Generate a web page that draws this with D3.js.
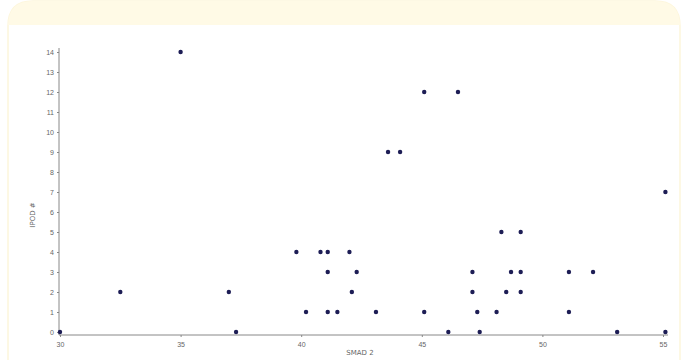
<!DOCTYPE html>
<html>
<head>
<meta charset="utf-8">
<script src="https://cdn.jsdelivr.net/npm/d3@7"></script>
<style>
  body { margin: 0; background: #fff; font-family: "DejaVu Sans", sans-serif; }
  .axis text { fill: #666; font-size: 7px; }
  .axis path, .axis line { stroke: #888; }
</style>
</head>
<body>
<script>
// data
var xVals = [30, 37.3, 46.1, 47.4, 53.1, 55.1,
             40.2, 41.1, 41.5, 43.1, 45.1, 47.3, 48.1, 51.1,
             32.5, 37.0, 42.1, 47.1, 48.5, 49.1,
             41.1, 42.3, 47.1, 48.7, 49.1, 51.1, 52.1,
             39.8, 40.8, 41.1, 42.0,
             48.3, 49.1,
             55.1,
             43.6, 44.1,
             45.1, 46.5,
             35.0];
var yVals = [0, 0, 0, 0, 0, 0,
             1, 1, 1, 1, 1, 1, 1, 1,
             2, 2, 2, 2, 2, 2,
             3, 3, 3, 3, 3, 3, 3,
             4, 4, 4, 4,
             5, 5,
             7,
             9, 9,
             12, 12,
             14];
var xTicks = [30, 35, 40, 45, 50, 55];
var yTicks = d3.range(0, 15);
var xTitle = "SMAD 2";
var yTitle = "IPOD #";

var W = 688, H = 360;
var svg = d3.select("body").append("svg")
  .attr("width", W)
  .attr("height", H);

// card
svg.append("path")
  .attr("d", "M8,380 L8,26 Q8,1 33,1 L655,1 Q680,1 680,26 L680,380")
  .attr("fill", "#fffdf8")
  .attr("stroke", "#fdf6dc")
  .attr("stroke-width", 1.5);
svg.append("path")
  .attr("d", "M8,25 L8,26 Q8,1 33,1 L655,1 Q680,1 680,26 L680,25 Z")
  .attr("fill", "#fffae6");
svg.append("rect")
  .attr("x", 9).attr("y", 25).attr("width", 670).attr("height", 340)
  .attr("fill", "#fff");

var x = d3.scaleLinear().domain([30, 55]).range([60, 663]);
var y = d3.scaleLinear().domain([0, 14]).range([332, 52]);

var xAxis = d3.axisBottom(x).tickValues(xTicks).tickSize(2).tickPadding(5).tickFormat(d3.format("d"));
var yAxis = d3.axisLeft(y).tickValues(yTicks).tickSize(2).tickPadding(3).tickFormat(d3.format("d"));

svg.append("g")
  .attr("class", "axis")
  .attr("transform", "translate(0,335)")
  .call(xAxis)
  .call(function(g) { g.select(".domain").attr("d", "M59,0H668"); });

svg.append("g")
  .attr("class", "axis")
  .attr("transform", "translate(59,0)")
  .call(yAxis)
  .call(function(g) { g.select(".domain").attr("d", "M0,48V335"); });

svg.append("text")
  .attr("x", 360).attr("y", 355)
  .attr("text-anchor", "middle")
  .attr("fill", "#666")
  .style("font-size", "7px")
  .text(xTitle);

svg.append("text")
  .attr("transform", "translate(35,215) rotate(-90)")
  .attr("text-anchor", "middle")
  .attr("fill", "#666")
  .style("font-size", "7px")
  .text(yTitle);

// points
svg.selectAll(".pt")
  .data(d3.range(xVals.length))
  .enter()
  .append("circle")
  .attr("class", "pt")
  .attr("cx", function(i) { return x(xVals[i]); })
  .attr("cy", function(i) { return y(yVals[i]); })
  .attr("r", 2.2)
  .attr("fill", "#1d1d55");
</script>
</body>
</html>
